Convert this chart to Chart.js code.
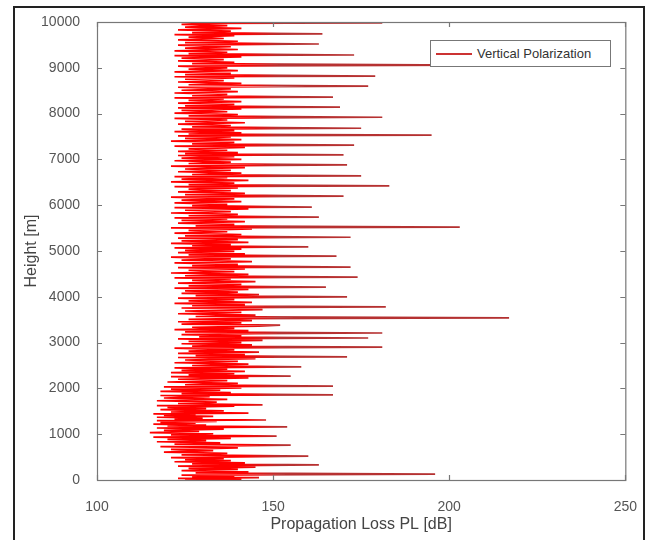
<!DOCTYPE html>
<html>
<head>
<meta charset="utf-8">
<script src="https://cdn.jsdelivr.net/npm/chart.js@4"></script>
<style>
  html, body { margin: 0; padding: 0; background: #fff; }
  #wrap { position: relative; width: 648px; height: 540px; overflow: hidden; }
  #frame {
    position: absolute; left: 13px; top: 6px; width: 628px; height: 560px;
    border: 2px solid #222; border-bottom: none;
  }
  #legend {
    position: absolute; left: 430px; top: 40px; width: 179px; height: 25px;
    border: 1px solid #777; background: #fff;
    font: 13px "Liberation Sans", Arial, sans-serif; color: #333;
    display: flex; align-items: center;
  }
  #legend .swatch { width: 36px; height: 2px; margin-left: 5px; margin-right: 5px; background: #cc3333; }
  canvas { position: absolute; left: 0; top: 0; }
</style>
</head>
<body>
<div id="wrap">
  <canvas id="plChart" width="648" height="540"></canvas>
  <div id="frame"></div>
  <div id="legend"><span class="swatch"></span><span id="legendText"></span></div>
</div>
<script>
// Height samples [m] and matching propagation loss [dB].
// One row per spike: the last value in each row is the narrow spike.
const heightM = [
    0,   18,   36,   54,   72,   90,  108,  130,
  155,  180,  205,  230,  255,  280,  305,  330,
  352,  375,  398,  421,  444,  467,  490,  520,
  550,  580,  610,  640,  670,  700,  730,  760,
  785,  810,  835,  860,  885,  910,  935,  960,
  985, 1010, 1035, 1060, 1085, 1110, 1135, 1160,
 1180, 1200, 1220, 1240, 1260, 1280, 1295, 1310,
 1330, 1350, 1370, 1390, 1410, 1430, 1445, 1460,
 1485, 1510, 1535, 1560, 1585, 1610, 1625, 1640,
 1670, 1700, 1730, 1760, 1790, 1820, 1845, 1860,
 1885, 1910, 1935, 1960, 1985, 2010, 2035, 2050,
 2080, 2110, 2140, 2170, 2200, 2230, 2255, 2270,
 2295, 2320, 2345, 2370, 2395, 2420, 2450, 2470,
 2500, 2530, 2560, 2590, 2620, 2650, 2675, 2690,
 2715, 2740, 2765, 2790, 2815, 2840, 2880, 2900,
 2925, 2950, 2975, 3000, 3025, 3050, 3080, 3100,
 3125, 3150, 3175, 3195, 3210,
 3235, 3260, 3285, 3310, 3335, 3360, 3380,
 3405, 3430, 3455, 3480, 3505, 3525, 3540,
 3570, 3600, 3630, 3660, 3690, 3720, 3755, 3780,
 3805, 3830, 3855, 3880, 3910, 3940, 3970, 4000,
 4025, 4050, 4075, 4100, 4130, 4160, 4190, 4210,
 4240, 4270, 4300, 4330, 4360, 4390, 4415, 4430,
 4460, 4490, 4520, 4550, 4580, 4610, 4635, 4650,
 4680, 4710, 4740, 4770, 4800, 4830, 4865, 4890,
 4915, 4940, 4965, 4990, 5015, 5040, 5070, 5090,
 5115, 5140, 5165, 5190, 5220, 5250, 5280, 5300,
 5330, 5360, 5390, 5420, 5450, 5480, 5505, 5520,
 5550, 5580, 5610, 5640, 5670, 5700, 5725, 5740,
 5770, 5800, 5830, 5860, 5890, 5920, 5945, 5960,
 5990, 6020, 6050, 6080, 6110, 6140, 6175, 6200,
 6230, 6260, 6290, 6320, 6350, 6380, 6405, 6420,
 6450, 6480, 6510, 6540, 6570, 6600, 6625, 6640,
 6670, 6700, 6730, 6760, 6790, 6820, 6855, 6880,
 6910, 6940, 6970, 7000, 7030, 7060, 7085, 7100,
 7125, 7150, 7175, 7200, 7230, 7260, 7290, 7310,
 7340, 7370, 7400, 7430, 7460, 7490, 7515, 7530,
 7555, 7580, 7605, 7630, 7660, 7680,
 7710, 7740, 7770, 7800, 7830, 7860, 7895, 7920,
 7950, 7980, 8010, 8040, 8070, 8100, 8125, 8140,
 8170, 8200, 8230, 8260, 8290, 8320, 8345, 8360,
 8390, 8420, 8450, 8480, 8510, 8540, 8575, 8600,
 8630, 8660, 8690, 8720, 8750, 8780, 8805, 8820,
 8850, 8880, 8910, 8940, 8970, 9000, 9035, 9060,
 9090, 9120, 9150, 9180, 9210, 9240, 9265, 9280,
 9310, 9340, 9370, 9400, 9430, 9460, 9495, 9520,
 9550, 9580, 9610, 9640, 9670, 9700, 9725, 9740,
 9770, 9800, 9830, 9860, 9890, 9920, 9950, 9970, 9980,
10000
];

const lossDb = [
 125, 141, 123, 146, 127, 139, 124, 196,
 128, 143, 124, 140, 126, 145, 123, 163,
 127, 142, 122, 138, 125, 136, 121, 160,
 124, 137, 119, 133, 121, 140, 118, 155,
 122, 135, 117, 131, 120, 138, 116, 151,
 121, 133, 115, 129, 119, 136, 117, 154,
 120, 131, 116, 128, 118, 134, 117, 148,
 122, 130, 117, 133, 119, 128, 116, 143,
 121, 136, 118, 131, 120, 139, 117, 147,
 123, 134, 117, 137, 119, 132, 118, 167,
 124, 138, 118, 135, 121, 141, 119, 167,
 125, 140, 120, 137, 123, 143, 121, 155,
 126, 139, 121, 142, 124, 137, 122, 158,
 127, 143, 122, 140, 125, 145, 123, 171,
 128, 142, 123, 146, 126, 139, 122, 181,
 127, 144, 124, 141, 126, 147, 123, 177,
 129, 141, 124, 145, 181,
 125, 143, 122, 139, 127, 146, 152,
 124, 141, 123, 144, 126, 138, 217,
 128, 145, 123, 141, 125, 147, 124, 182,
 127, 142, 122, 144, 126, 139, 123, 171,
 128, 146, 124, 140, 125, 143, 122, 165,
 126, 141, 123, 145, 127, 138, 122, 174,
 125, 143, 121, 139, 126, 142, 123, 172,
 127, 140, 122, 144, 124, 138, 121, 168,
 126, 142, 123, 139, 125, 141, 122, 160,
 127, 138, 121, 143, 124, 140, 123, 172,
 125, 141, 122, 137, 126, 144, 121, 203,
 128, 139, 123, 142, 124, 137, 122, 163,
 126, 140, 121, 138, 125, 143, 122, 161,
 127, 137, 122, 141, 124, 139, 121, 170,
 125, 142, 123, 138, 126, 140, 122, 183,
 126, 139, 121, 143, 124, 137, 122, 175,
 127, 141, 123, 138, 125, 142, 121, 171,
 126, 138, 122, 141, 124, 139, 123, 170,
 125, 140, 123, 137, 126, 142, 122, 173,
 127, 139, 121, 141, 125, 138, 123, 195,
 126, 141, 122, 139, 124, 175,
 127, 138, 123, 142, 125, 137, 122, 181,
 126, 140, 122, 137, 124, 141, 123, 169,
 125, 139, 123, 141, 126, 136, 122, 167,
 127, 137, 122, 140, 124, 138, 123, 177,
 126, 141, 123, 136, 125, 139, 122, 179,
 125, 138, 122, 140, 126, 137, 123, 206,
 127, 139, 123, 136, 124, 141, 122, 173,
 126, 137, 122, 140, 125, 138, 123, 163,
 125, 140, 123, 136, 126, 139, 122, 164,
 127, 138, 123, 141, 125, 137, 124, 130, 181,
 140
];

const seriesLabel = 'Vertical Polarization';
const xTicks = [100, 150, 200, 250];
const yTicks = [0, 1000, 2000, 3000, 4000, 5000, 6000, 7000, 8000, 9000, 10000];

const FONT = '"Liberation Sans", Arial, sans-serif';

/* MATLAB-style box with inward tick marks on all four sides */
const matlabBox = {
    id: 'matlabBox',
    afterDatasetsDraw(chart) {
        const { ctx, chartArea: a, scales: { x, y } } = chart;
        ctx.save();
        ctx.strokeStyle = '#777';
        ctx.lineWidth = 1.2;
        ctx.strokeRect(a.left + 0.5, a.top + 0.5, a.right - a.left, a.bottom - a.top);
        ctx.beginPath();
        x.ticks.forEach(t => {
            const px = Math.round(x.getPixelForValue(t.value)) + 0.5;
            ctx.moveTo(px, a.bottom); ctx.lineTo(px, a.bottom - 5);
            ctx.moveTo(px, a.top);    ctx.lineTo(px, a.top + 5);
        });
        y.ticks.forEach(t => {
            const py = Math.round(y.getPixelForValue(t.value)) + 0.5;
            ctx.moveTo(a.left, py);  ctx.lineTo(a.left + 5, py);
            ctx.moveTo(a.right, py); ctx.lineTo(a.right - 5, py);
        });
        ctx.stroke();
        ctx.restore();
    }
};

const points = heightM.map((h, i) => ({ x: lossDb[i], y: h }));

// bright red in the dense core, darker thin red for the long nulls
function lineColor(context) {
    const { chart } = context;
    const a = chart.chartArea;
    if (!a) return '#ff0000';
    const x = chart.scales.x;
    const g = chart.ctx.createLinearGradient(a.left, 0, a.right, 0);
    const f = v => (x.getPixelForValue(v) - a.left) / (a.right - a.left);
    g.addColorStop(0, '#ff0000');
    g.addColorStop(f(141), '#ff0000');
    g.addColorStop(f(152), '#b83232');
    g.addColorStop(1, '#b03030');
    return g;
}

document.getElementById('legendText').textContent = seriesLabel;

new Chart(document.getElementById('plChart').getContext('2d'), {
    type: 'scatter',
    data: {
        datasets: [{
            label: seriesLabel,
            data: points,
            showLine: true,
            borderColor: lineColor,
            borderWidth: 1.7,
            pointRadius: 0,
            tension: 0,
        }],
    },
    options: {
        responsive: false,
        animation: false,
        layout: { padding: { left: 0, top: 22, right: 21, bottom: 0 } },
        plugins: {
            legend: { display: false },
            tooltip: { enabled: false },
        },
        scales: {
            x: {
                type: 'linear',
                min: 100,
                max: 250,
                afterFit: s => { s.height = 60; },
                afterBuildTicks: s => { s.ticks = xTicks.map(v => ({ value: v })); },
                grid: { display: false },
                border: { display: false },
                ticks: {
                    color: '#555',
                    padding: 11,
                    font: { family: FONT, size: 14 },
                    callback: v => String(v),
                },
                title: {
                    display: true,
                    text: 'Propagation Loss PL [dB]',
                    color: '#444',
                    padding: { top: 0, bottom: 6 },
                    font: { family: FONT, size: 16 },
                },
            },
            y: {
                type: 'linear',
                min: 0,
                max: 10000,
                afterFit: s => { s.width = 97; },
                afterBuildTicks: s => { s.ticks = yTicks.map(v => ({ value: v })); },
                grid: { display: false },
                border: { display: false },
                ticks: {
                    color: '#555',
                    padding: 9,
                    font: { family: FONT, size: 14 },
                    callback: v => String(v),
                },
                title: {
                    display: true,
                    text: 'Height [m]',
                    color: '#444',
                    padding: { top: 22, bottom: 0 },
                    font: { family: FONT, size: 16 },
                },
            },
        },
    },
    plugins: [matlabBox],
});
</script>
</body>
</html>
